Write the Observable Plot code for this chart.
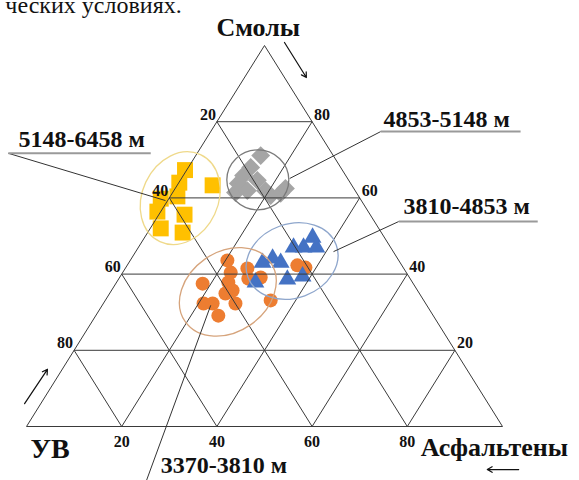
<!DOCTYPE html>
<html>
<head>
<meta charset="utf-8">
<script src="https://cdn.jsdelivr.net/npm/d3@7"></script>
<script src="https://cdn.jsdelivr.net/npm/@observablehq/plot@0.6"></script>
<style>
  body { margin: 0; background: #fff; }
</style>
</head>
<body>
<div id="chart"></div>
<script>
// Sample positions inside the triangle frame:
// x = % along the base (УВ → Асфальтены), y = % of the height (towards Смолы).
const depth5148X = [33.3, 32.1, 39.1, 28.2, 31.7, 27.5, 33.2, 28.2, 32.8];
const depth5148Y = [67.3, 64.0, 63.3, 59.8, 60.4, 56.4, 55.6, 52.0, 50.9];

const depth4853X = [49.2, 47.1, 45.6, 44.5, 43.9, 46.4, 48.5, 50.2, 51.3, 53.4, 54.4];
const depth4853Y = [71.1, 68.0, 65.9, 63.8, 61.4, 61.9, 64.6, 61.9, 60.6, 61.2, 62.5];

const depth3810X = [60.1, 58.2, 60.9, 56.1, 49.6, 51.7, 53.4, 48.1, 54.8, 58.0];
const depth3810Y = [49.6, 47.0, 47.0, 47.0, 43.0, 44.1, 43.0, 37.8, 38.6, 39.4];

const depth3370X = [42.2, 42.9, 46.4, 46.6, 49.2, 37.0, 42.4, 43.3, 41.8, 43.9, 37.2, 39.1, 40.3, 51.3, 56.9, 58.6];
const depth3370Y = [43.6, 40.4, 41.5, 38.8, 39.1, 37.5, 37.8, 35.7, 34.9, 32.3, 32.3, 32.3, 29.1, 33.1, 42.3, 41.7];

// Percent ticks on the three sides
const ticks = [20, 40, 60, 80];

// Group names and their callouts
const groupNames = ["5148-6458 м", "4853-5148 м", "3810-4853 м", "3370-3810 м"];
const labelX = [-1.7, 75.0, 79.2, 28.2];
const labelY = [75.5, 80.5, 57.9, -10.3];
const underlineX1 = [-3.8, 74.4, 78.2, null];
const underlineX2 = [26.1, 103.8, 107.4, null];
const underlineY = [71.7, 77.4, 53.8, null];
const leaderX1 = [-3.8, 74.4, 78.2, 25.2];
const leaderY1 = [71.7, 77.4, 53.8, -14.2];
const leaderX2 = [29.2, 55.3, 64.5, 38.7];
const leaderY2 = [59.3, 65.1, 45.9, 31.8];

// Outline ellipses around each group (centre in frame units)
const ringX = [32.4, 48.7, 55.9, 42.4];
const ringY = [59.8, 64.6, 43.3, 35.2];

const pts = (xs, ys) => xs.map((x, i) => ({x, y: ys[i]}));

// Triangular grid: lines parallel to each side at every tick
const grid = ticks.flatMap(k => [
  {x1: k / 2, y1: k, x2: 100 - k / 2, y2: k},
  {x1: k, y1: 0, x2: 50 + k / 2, y2: 100 - k},
  {x1: 100 - k, y1: 0, x2: (100 - k) / 2, y2: 100 - k}
]);
const outline = [
  {x1: 0, y1: 0, x2: 100, y2: 0},
  {x1: 0, y1: 0, x2: 50, y2: 100},
  {x1: 100, y1: 0, x2: 50, y2: 100}
];

const leftTicks = ticks.map(v => ({v, x: (100 - v) / 2, y: 100 - v}));
const rightTicks = ticks.map(v => ({v, x: 100 - v / 2, y: v}));
const bottomTicks = ticks.map(v => ({v, x: v, y: 0}));

const ringStyle = [
  {rx: 38, ry: 48, rot: 25, stroke: "#efd98a"},
  {rx: 31, ry: 30, rot: 0, stroke: "#7a7a7a"},
  {rx: 47, ry: 37, rot: -20, stroke: "#8ea6cc"},
  {rx: 52, ry: 40, rot: -35, stroke: "#d6a47c"}
];

function rings(index, scales) {
  const g = d3.create("svg:g").attr("fill", "none").attr("stroke-width", 1.3);
  ringX.forEach((x, i) => {
    const cx = scales.x(x), cy = scales.y(ringY[i]);
    const s = ringStyle[i];
    g.append("ellipse")
      .attr("cx", cx).attr("cy", cy)
      .attr("rx", s.rx).attr("ry", s.ry)
      .attr("transform", `rotate(${s.rot} ${cx} ${cy})`)
      .attr("stroke", s.stroke);
  });
  return g.node();
}

const callouts = groupNames.map((name, i) => ({
  name, x: labelX[i], y: labelY[i],
  ux1: underlineX1[i], ux2: underlineX2[i], uy: underlineY[i],
  lx1: leaderX1[i], ly1: leaderY1[i], lx2: leaderX2[i], ly2: leaderY2[i]
}));
const underlined = callouts.filter(d => d.ux1 != null);

const serif = "Liberation Serif, Times New Roman, serif";
const tickText = {fontFamily: serif, fontWeight: "bold", fontSize: 16, fill: "#111"};
const bigText = {fontFamily: serif, fontWeight: "bold", fill: "#111"};

const chart = Plot.plot({
  width: 579,
  height: 480,
  margin: 0,
  x: {domain: [0, 100], range: [26, 502], axis: null},
  y: {domain: [0, 100], range: [426, 45], axis: null},
  marks: [
    // groups of samples
    Plot.dot(pts(depth3370X, depth3370Y), {x: "x", y: "y", r: 7, fill: "#ed7d31", symbol: "circle"}),
    Plot.dot(pts(depth3810X, depth3810Y), {x: "x", y: "y", r: 6.6, fill: "#4472c4", symbol: "triangle"}),
    Plot.dot(pts(depth5148X, depth5148Y), {x: "x", y: "y", r: 9, fill: "#ffc000", symbol: "square"}),
    Plot.dot(pts(depth4853X, depth4853Y), {x: "x", y: "y", r: 8.5, fill: "#a5a5a5", symbol: "diamond2"}),

    // triangle and grid
    Plot.link(grid, {x1: "x1", y1: "y1", x2: "x2", y2: "y2", stroke: "#3a3a3a", strokeWidth: 1}),
    Plot.link(outline, {x1: "x1", y1: "y1", x2: "x2", y2: "y2", stroke: "#3a3a3a", strokeWidth: 1}),

    // group outlines
    rings,

    // callouts
    Plot.link(callouts, {x1: "lx1", y1: "ly1", x2: "lx2", y2: "ly2", stroke: "#333", strokeWidth: 1}),
    Plot.link(underlined, {x1: "ux1", y1: "uy", x2: "ux2", y2: "uy", stroke: "#9a9a9a", strokeWidth: 2}),
    Plot.text(callouts, {x: "x", y: "y", text: "name", textAnchor: "start", fontSize: 24, ...bigText}),

    // tick labels
    Plot.text(leftTicks, {x: "x", y: "y", text: "v", textAnchor: "end", dx: -1, dy: -7, ...tickText}),
    Plot.text(rightTicks, {x: "x", y: "y", text: "v", textAnchor: "start", dx: 2, dy: -7, ...tickText}),
    Plot.text(bottomTicks, {x: "x", y: "y", text: "v", textAnchor: "middle", dy: 15, ...tickText}),

    // component names
    Plot.text(["Смолы"], {x: 48.7, y: 104.6, text: d => d, textAnchor: "middle", fontSize: 26, ...bigText}),
    Plot.text(["УВ"], {x: 0.84, y: -6.0, text: d => d, textAnchor: "start", fontSize: 28, ...bigText}),
    Plot.text(["Асфальтены"], {x: 82.8, y: -5.5, text: d => d, textAnchor: "start", fontSize: 26, ...bigText}),

    // direction arrows
    Plot.arrow([
      {x1: 54.2, y1: 100.8, x2: 58.8, y2: 91.6},
      {x1: -0.4, y1: 6.0, x2: 4.4, y2: 15.0},
      {x1: 103.4, y1: -11.3, x2: 96.8, y2: -11.3}
    ], {x1: "x1", y1: "y1", x2: "x2", y2: "y2", stroke: "#111", strokeWidth: 1.2, headLength: 7}),

    // tail of the preceding text line
    Plot.text(["ческих условиях."], {x: 32.6, y: 110.6, text: d => d, textAnchor: "end",
      fontFamily: serif, fontSize: 24, fill: "#111"})
  ]
});

document.getElementById("chart").appendChild(chart);
</script>
</body>
</html>
